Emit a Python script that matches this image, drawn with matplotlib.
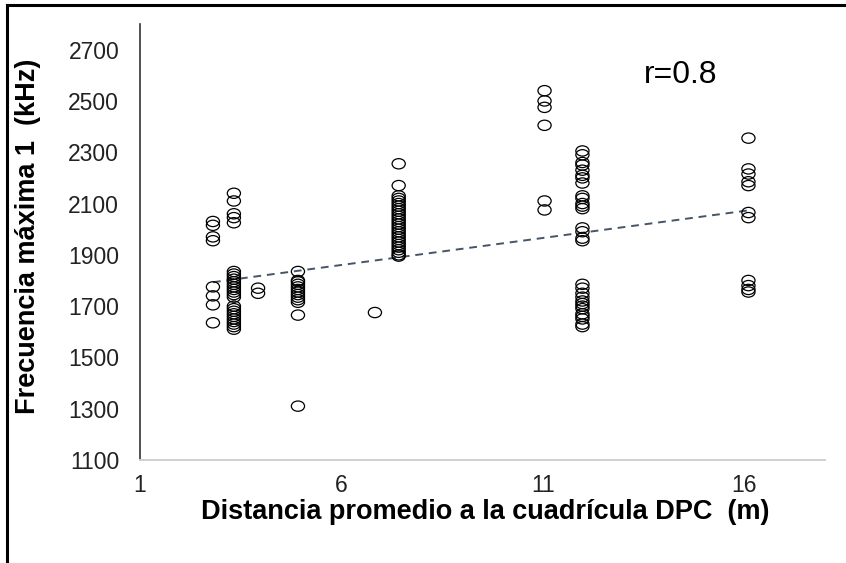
import numpy as np
import matplotlib
matplotlib.use("Agg")
import matplotlib.pyplot as plt
from matplotlib.path import Path
from matplotlib.lines import Line2D

plt.rcParams['font.family'] = ['Liberation Sans', 'DejaVu Sans']

# distancia promedio (m) de cada grupo y sus frecuencias máximas (kHz)
dist_grupos = [2.81, 3.33, 3.93, 4.92, 6.83, 7.42, 11.04, 11.98, 16.1]

frec_grupos = [
    [2030, 2015, 1970, 1955, 1775, 1740, 1705, 1635],
    [2140, 2110, 2060, 2045, 2025,
     1835, 1825, 1815, 1805, 1795, 1785, 1775, 1765, 1755, 1745, 1735,
     1700, 1690, 1680, 1670, 1660, 1650, 1640, 1630, 1620, 1610],
    [1770, 1750],
    [1835, 1800, 1795, 1785, 1775, 1765, 1755, 1745, 1735, 1725, 1715, 1665, 1310],
    [1675],
    [2255, 2170, 2130, 2120, 2110, 2100, 2090, 2080, 2070, 2060, 2050, 2040,
     2030, 2020, 2010, 2000, 1990, 1980, 1970, 1960, 1950, 1940, 1930, 1920,
     1910, 1900, 1895],
    [2540, 2500, 2475, 2405, 2110, 2075],
    [2305, 2290, 2260, 2250, 2230, 2210, 2200, 2180, 2130, 2120, 2100, 2090,
     2080, 2005, 1990, 1965, 1955, 1785, 1770, 1750, 1735, 1720, 1710, 1700,
     1690, 1670, 1660, 1650, 1630, 1620],
    [2355, 2235, 2215, 2185, 2170, 2065, 2045, 1800, 1780, 1765, 1755],
]

# línea de tendencia (pendiente, ordenada) tal como la dio la hoja de cálculo
tend_pendiente = 21.07
tend_ordenada = 1734

yticks = [1100, 1300, 1500, 1700, 1900, 2100, 2300, 2500, 2700]
xticks = [1, 6, 11, 16]

x = np.concatenate([[d] * len(f) for d, f in zip(dist_grupos, frec_grupos)])
y = np.concatenate([np.array(f, dtype=float) for f in frec_grupos])

fig = plt.figure(figsize=(8.46, 5.63), dpi=100)
ax = fig.add_axes([140 / 846, 1 - 460 / 563, (825 - 140) / 846, (460 - 24) / 563])

# círculo algo achatado
circ = Path.unit_circle()
elipse = Path(circ.vertices * np.array([1.0, 0.78]), circ.codes)

ax.scatter(x, y, marker=elipse, s=90, facecolors='none', edgecolors='black',
           linewidths=0.9, zorder=3)

xt = np.array([min(dist_grupos), max(dist_grupos)])
ax.plot(xt, tend_pendiente * xt + tend_ordenada, linestyle=(0, (4, 3)),
        color='#44546A', linewidth=1.4, zorder=2)

ax.set_xlim(1, 18)
ax.set_ylim(1100, 2800)
ax.set_xticks(xticks)
ax.set_yticks(yticks)
ax.tick_params(length=0, labelsize=16.5, colors='#222222')
ax.tick_params(axis='y', pad=15)
ax.tick_params(axis='x', pad=10)

for s in ['top', 'right']:
    ax.spines[s].set_visible(False)
ax.spines['left'].set_color('#333333')
ax.spines['left'].set_linewidth(1.2)
ax.spines['bottom'].set_color('#d0d0d0')
ax.spines['bottom'].set_linewidth(1.4)

fig.text(485 / 846, 1 - 512 / 563, 'Distancia promedio a la cuadrícula DPC  (m)',
         ha='center', va='center', fontsize=19.5, fontweight='bold')
fig.text(28 / 846, 1 - 236 / 563, 'Frecuencia máxima 1  (kHz)', rotation=90,
         ha='center', va='center', fontsize=19.5, fontweight='bold')
fig.text(681 / 846, 1 - 75 / 563, 'r=0.8', ha='center', va='center', fontsize=23)

# marco negro alrededor de la figura
fig.add_artist(Line2D([7 / 846, 7 / 846], [0, 1 - 5 / 563], color='black',
                      linewidth=2.2, transform=fig.transFigure))
fig.add_artist(Line2D([7 / 846, 1], [1 - 5 / 563, 1 - 5 / 563], color='black',
                      linewidth=2.2, transform=fig.transFigure))

fig.savefig('out.png', dpi=100)
